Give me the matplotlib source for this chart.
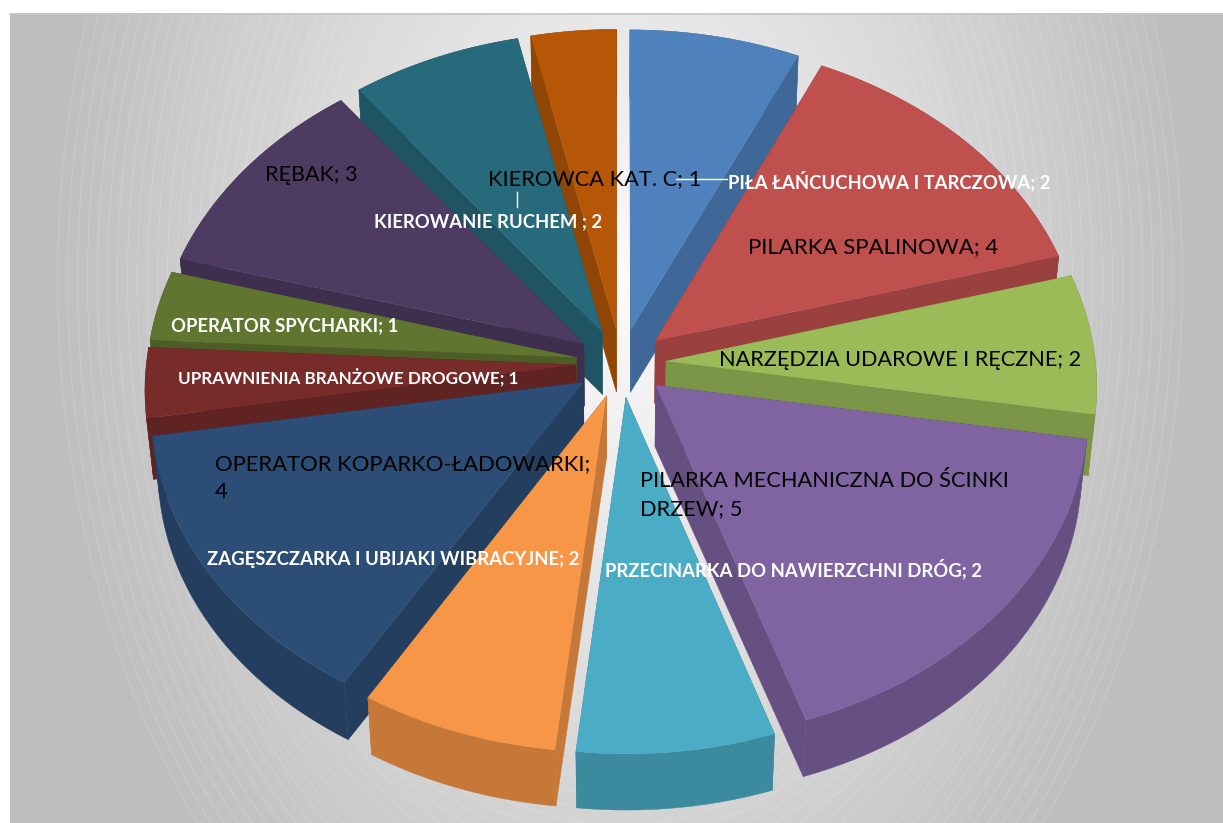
import numpy as np
import matplotlib
matplotlib.use('Agg')
import matplotlib.pyplot as plt
from matplotlib.patches import Polygon, Ellipse, Rectangle
from matplotlib.transforms import Transform

plt.rcParams['font.family'] = ['Lato', 'DejaVu Sans']

names = ['PIŁA ŁAŃCUCHOWA I TARCZOWA', 'PILARKA SPALINOWA', 'NARZĘDZIA UDAROWE I RĘCZNE',
         'PILARKA MECHANICZNA DO ŚCINKI\nDRZEW', 'PRZECINARKA DO NAWIERZCHNI DRÓG',
         'ZAGĘSZCZARKA I UBIJAKI WIBRACYJNE', 'OPERATOR KOPARKO-ŁADOWARKI',
         'UPRAWNIENIA BRANŻOWE DROGOWE', 'OPERATOR SPYCHARKI', 'RĘBAK',
         'KIEROWANIE RUCHEM ', 'KIEROWCA KAT. C']
values = [2, 4, 2, 5, 2, 2, 4, 1, 1, 3, 2, 1]
separators = ['; ', '; ', '; ', '; ', '; ', '; ', ';\n', '; ', '; ', '; ', '; ', '; ']
colors = ['#4F81BD', '#C0504D', '#9BBB59', '#8064A2', '#4BACC6', '#F79646',
          '#2C4D75', '#772C2A', '#5F7530', '#4D3B62', '#276A7C', '#B65708']

# label placement in picture pixels: x, y, white bold?, size
label_pos = [(728, 181, True, 13.3), (748, 247, False, 16), (719, 360, False, 15.6),
             (640, 495, False, 15.7), (605, 569, True, 13.3), (207, 560, True, 13.3),
             (215, 478, False, 15.85), (178, 377, True, 12.3), (171, 326, True, 13.3),
             (265, 175, False, 15.5), (374, 222, True, 13.3), (488, 179, False, 15.7)]

W, H = 1223, 823
CX, CY, A, B, K = 621, 363, 429.5, 326, 0.0716
EXPLODE = 0.105
DEPTH = 62


class Persp(Transform):
    # puts the flat pie on a tilted plane, level 0 = top face, 1 = bottom
    input_dims = 2
    output_dims = 2

    def __init__(self, level=0):
        super().__init__()
        self.level = level

    def transform_non_affine(self, xy):
        xy = np.asarray(xy, dtype=float)
        w = 1 + K * xy[:, 1]
        s = 1 - 0.015 * self.level
        return np.column_stack([CX + s * A * xy[:, 0] / w,
                                CY + DEPTH * self.level - s * B * xy[:, 1] / w])


def darker(c, f=0.8):
    r, g, b = matplotlib.colors.to_rgb(c)
    return (r * f, g * f, b * f)


fig = plt.figure(figsize=(W / 100, H / 100), dpi=100)
ax = fig.add_axes([0, 0, 1, 1])

wedges, _ = ax.pie(values, explode=[EXPLODE] * len(values), colors=colors,
                   startangle=90, counterclock=False, wedgeprops={'linewidth': 0})

# background
xx, yy = np.meshgrid(np.arange(10, W), np.arange(13, H))
g = np.sqrt(((xx - 620) / 565) ** 2 + ((yy - 280) / 827) ** 2)
shade = np.clip(250 - 60 * g, 190, 255) / 255
ax.imshow(shade, cmap='gray', vmin=0, vmax=1, extent=(10, W, H, 13), aspect='auto', zorder=0)
ax.set_aspect('auto')
ax.set_xlim(0, W)
ax.set_ylim(H, 0)
ax.axis('off')
frame = Rectangle((10, 13), W - 10, H - 13, fill=False, lw=0)
ax.add_patch(frame)
for r in np.arange(0.5, 1.001, 0.0177):
    ring = Ellipse((620, 280), 2 * 565 * r, 2 * 827 * r, fill=False, ec='white', alpha=0.2, lw=0.6, zorder=1)
    ax.add_patch(ring)
    ring.set_clip_path(frame)
ax.plot([10, W], [13.5, 13.5], color='#c6c6c6', lw=1.2, zorder=1)

top = Persp(0)
bottom = Persp(1)
mids = [(w.theta1 + w.theta2) / 2 for w in wedges]
# back slices first
order = sorted(range(len(wedges)), key=lambda i: -np.sin(np.radians(mids[i])))
for rank, i in enumerate(order):
    w = wedges[i]
    wall = darker(colors[i])
    z = 2 + rank * 2
    th = np.radians(np.linspace(w.theta1, w.theta2, 60))
    arc = np.column_stack([w.center[0] + w.r * np.cos(th), w.center[1] + w.r * np.sin(th)])
    apex = np.array([w.center])
    ax.add_patch(Polygon(np.vstack([top.transform(arc), bottom.transform(arc)[::-1]]),
                         fc=wall, ec=wall, lw=0.3, zorder=z))
    for edge in (arc[:1], arc[-1:]):
        ax.add_patch(Polygon(np.vstack([top.transform(apex), top.transform(edge),
                                        bottom.transform(edge), bottom.transform(apex)]),
                             fc=wall, ec=wall, lw=0.3, zorder=z))
    w.set_transform(top + ax.transData)
    w.set_zorder(z + 1)
    w.set_clip_on(False)

for name, val, sep, (x, y, white, size) in zip(names, values, separators, label_pos):
    ax.text(x, y, '{}{}{}'.format(name, sep, val), ha='left', va='center', zorder=50, linespacing=1.45,
            color='white' if white else 'black', fontweight='bold' if white else 'normal',
            fontsize=size)

# leader lines
ax.plot([676, 727], [179, 179], color='white', lw=1, zorder=49)
ax.plot([517, 517], [192, 207], color='white', lw=1, zorder=49)

fig.savefig('out.png', dpi=100, facecolor='white')
